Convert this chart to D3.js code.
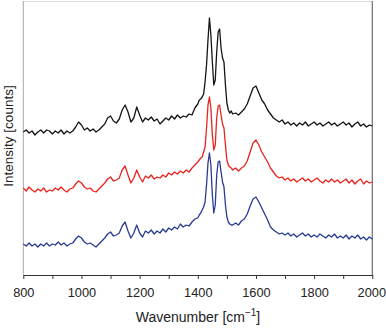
<!DOCTYPE html>
<html>
<head>
<meta charset="utf-8">
<script src="https://cdn.jsdelivr.net/npm/d3@7"></script>
<style>
  body { margin: 0; background: #fff; overflow: hidden; }
  svg { display: block; font-family: "Liberation Sans", Arial, sans-serif; }
</style>
</head>
<body>
<div id="spectrum"></div>
<script>
// wavenumber grid (cm-1), finer around the 1440/1475 doublet
const wavenumbers = [
  800, 810, 820, 830, 840, 850, 860, 870, 880, 890,
  900, 910, 920, 930, 940, 950, 960, 970, 980, 990,
  1000, 1010, 1020, 1030, 1040, 1050, 1060, 1070, 1080, 1090,
  1100, 1110, 1120, 1130, 1140, 1150, 1160, 1170, 1180, 1190,
  1200, 1210, 1220, 1230, 1240, 1250, 1260, 1270, 1280, 1290,
  1300, 1310, 1320, 1330, 1340, 1350, 1360, 1370, 1380, 1390,
  1400, 1405, 1410, 1415, 1420, 1425, 1430, 1435, 1440, 1445,
  1450, 1455, 1460, 1465, 1470, 1475, 1480, 1485, 1490, 1495,
  1500, 1505, 1510, 1515, 1520,
  1530, 1540, 1550, 1560, 1570, 1580, 1590,
  1600, 1610, 1620, 1630, 1640, 1650, 1660, 1670, 1680, 1690,
  1700, 1710, 1720, 1730, 1740, 1750, 1760, 1770, 1780, 1790,
  1800, 1810, 1820, 1830, 1840, 1850, 1860, 1870, 1880, 1890,
  1900, 1910, 1920, 1930, 1940, 1950, 1960, 1970, 1980, 1990,
  2000
];

// intensities (arbitrary counts, already offset like in the figure)
const blackSeries = [
  143, 145, 142, 144, 140, 143, 145, 142, 145, 144,
  141, 144, 142, 145, 141, 144, 142, 144, 148, 153,
  150, 145, 147, 144, 146, 143, 145, 148, 151, 157,
  159, 154, 152, 156, 165, 170, 163, 153, 157, 168,
  160, 153, 157, 155, 158, 154, 156, 151, 154, 157,
  155, 159, 156, 160, 157, 159, 158, 161, 160, 167,
  171, 175, 176, 178, 181, 193, 210, 235, 257, 240,
  213, 190, 195, 223, 243, 246, 227, 217, 213, 190,
  172, 165, 162, 164, 161,
  162, 160, 163, 166, 171, 179, 187,
  189, 182, 175, 171, 165, 161, 157, 155, 153, 155,
  151, 153, 150, 152, 149, 152, 150, 153, 149, 151,
  153, 150, 152, 149, 151, 153, 150, 152, 149, 151,
  153, 150, 152, 148, 151, 153, 149, 151, 148, 150,
  149
];

const redSeries = [
  87, 84, 88, 85, 83, 86, 84, 87, 83, 85,
  84, 87, 85, 88, 85, 83, 86, 87, 91, 94,
  92, 88, 86, 87, 84, 83, 86, 89, 92, 96,
  98, 94, 95, 97, 105, 109, 100, 92, 97, 105,
  98, 93, 99, 97, 100, 96, 98, 97, 100, 98,
  102, 100, 103, 101, 104, 102, 105, 103, 107, 110,
  113, 115, 117, 118, 123, 128, 147, 170, 178, 167,
  140, 125, 130, 157, 169, 170, 160, 151, 147, 130,
  115, 110, 108, 107, 105,
  107, 104, 107, 109, 114, 123, 132,
  135, 130, 123, 118, 113, 107, 103, 99, 97, 98,
  95, 97, 94, 96, 93, 95, 97, 94, 96, 93,
  95, 97, 94, 92, 95, 93, 96, 93, 95, 92,
  94, 96, 92, 95, 91, 94, 96, 91, 94, 92,
  93
];

const blueSeries = [
  31, 29, 32, 29, 31, 28, 31, 29, 32, 29,
  31, 30, 33, 30, 32, 29, 31, 32, 36, 39,
  37, 33, 31, 32, 30, 28, 31, 34, 37, 41,
  43, 39, 40, 42, 49, 53, 44, 37, 42, 50,
  42, 38, 44, 42, 45, 41, 44, 42, 46, 43,
  47, 45, 48, 46, 51, 48, 50, 49, 53, 56,
  57, 60, 62, 65, 68, 73, 90, 112, 122, 110,
  80, 62, 70, 100, 113, 114, 103, 93, 88, 70,
  58, 53, 51, 50, 50,
  52, 50, 54, 56, 61, 69, 76,
  78, 73, 67, 61, 55, 48, 45, 43, 41, 42,
  40, 42, 39, 41, 38, 40, 42, 39, 41, 38,
  40, 38, 41, 39, 37, 40, 38, 41, 37, 39,
  37, 40, 36, 39, 37, 40, 36, 38, 35, 38,
  36
];

const spectra = [
  { name: "black", color: "#141414", values: blackSeries },
  { name: "red", color: "#e8241f", values: redSeries },
  { name: "blue", color: "#2a3b95", values: blueSeries }
];

const xTickValues = [800, 900, 1000, 1100, 1200, 1300, 1400, 1500, 1600, 1700, 1800, 1900, 2000];

const width = 386;
const height = 328;
const margin = { top: 1, right: 13.7, bottom: 53, left: 23.3 };
const innerWidth = width - margin.left - margin.right;
const innerHeight = height - margin.top - margin.bottom;

const svg = d3.select("#spectrum")
  .append("svg")
  .attr("width", width)
  .attr("height", height);

const innerChart = svg.append("g")
  .attr("transform", `translate(${margin.left}, ${margin.top})`);

// scales
const xScale = d3.scaleLinear()
  .domain([800, 2000])
  .range([0, innerWidth]);

const yScale = d3.scaleLinear()
  .domain([0, 274])
  .range([innerHeight, 0]);

// frame (left/top/right are light grey, bottom is the axis)
innerChart.append("line")
  .attr("x1", 0).attr("x2", innerWidth)
  .attr("y1", 0.5).attr("y2", 0.5)
  .attr("stroke", "#dcdcdc");
innerChart.append("line")
  .attr("x1", 0).attr("x2", 0)
  .attr("y1", 0).attr("y2", innerHeight)
  .attr("stroke", "#a8a8a8");
innerChart.append("line")
  .attr("x1", innerWidth).attr("x2", innerWidth)
  .attr("y1", 0).attr("y2", innerHeight)
  .attr("stroke", "#6e6e6e")
  .attr("stroke-width", 1.2);

// spectra
const lineGen = d3.line()
  .x((d, i) => xScale(wavenumbers[i]))
  .y(d => yScale(d));

innerChart.selectAll("path.spectrum")
  .data(spectra)
  .join("path")
  .attr("class", "spectrum")
  .attr("fill", "none")
  .attr("stroke", d => d.color)
  .attr("stroke-width", 1.3)
  .attr("stroke-linejoin", "round")
  .attr("d", d => lineGen(d.values));

// X-axis, label only every 200
const xAxis = d3.axisBottom(xScale)
  .tickValues(xTickValues)
  .tickSize(4)
  .tickPadding(9)
  .tickSizeOuter(0)
  .tickFormat(d => d % 200 === 0 ? d : "");

const xAxisGroup = innerChart.append("g")
  .attr("transform", `translate(0, ${innerHeight})`)
  .call(xAxis);

xAxisGroup.select(".domain").attr("stroke", "#333").attr("stroke-width", 1.2);
xAxisGroup.selectAll(".tick line").attr("stroke", "#333");
// drop the empty labels of the in-between ticks
xAxisGroup.selectAll(".tick text")
  .filter(d => d % 200 !== 0)
  .remove();
xAxisGroup.selectAll(".tick text")
  .attr("fill", "#222")
  .style("font-size", "12.8px")
  .style("font-family", "'Liberation Sans', Arial, sans-serif");
// last label sits on the edge of the window
xAxisGroup.selectAll(".tick text")
  .filter(d => d === 2000)
  .attr("text-anchor", "end")
  .attr("x", 13.2);

// axis titles
const xTitle = svg.append("text")
  .attr("x", 198)
  .attr("y", 322)
  .attr("text-anchor", "middle")
  .attr("fill", "#222")
  .style("font-size", "14px");
xTitle.append("tspan").text("Wavenumber [cm");
xTitle.append("tspan").attr("dy", -6).style("font-size", "10px").text("\u22121");
xTitle.append("tspan").attr("dy", 6).text("]");

svg.append("text")
  .text("Intensity [counts]")
  .attr("transform", "translate(13, 136) rotate(-90)")
  .attr("text-anchor", "middle")
  .attr("fill", "#222")
  .style("font-size", "13.5px");
</script>
</body>
</html>
